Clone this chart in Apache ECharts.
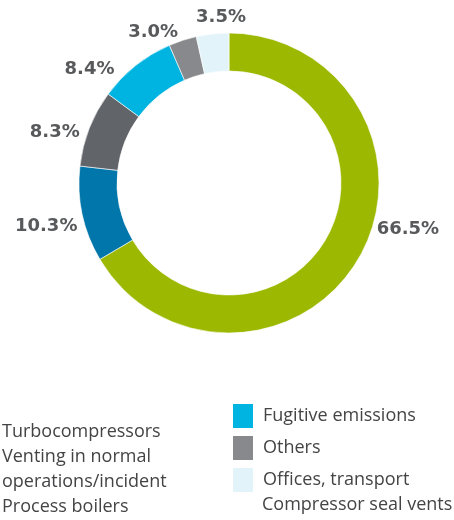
<!DOCTYPE html>
<html>
<head>
<meta charset="utf-8">
<script src="https://cdn.jsdelivr.net/npm/echarts@6/dist/echarts.min.js"></script>
<style>
  html, body { margin: 0; padding: 0; background: #ffffff; }
  #chart { width: 454px; height: 520px; }
</style>
</head>
<body>
<div id="chart"></div>
<script>
// Emission sources and their share of the total (percent)
const categories = [
  'Turbocompressors',
  'Venting in normal\noperations/incident',
  'Process boilers',
  'Fugitive emissions',
  'Others',
  'Offices, transport',
  'Compressor seal vents'
];
const shares = [66.5, 10.3, 8.3, 8.4, 3.0, 3.5, 0];
const colors = ['#9cb800', '#0076ab', '#616469', '#00b4e1', '#88898c', '#e2f4fa', '#ffffff'];

// Legend columns
const legendLeft = categories.slice(0, 3);
const legendRight = categories.slice(3, 6);
const legendLast = categories.slice(6);

// Small nudges for the percentage labels (px)
const labelNudge = [[8, -30], [5, 11], [0, 6], [-13, 8], [2, -3], [39, -12], [0, 0]];

const chart = echarts.init(document.getElementById('chart'), null, { renderer: 'canvas' });

const data = categories.map((name, i) => ({
  name: name,
  value: shares[i],
  itemStyle: { color: colors[i], borderWidth: shares[i] > 0 ? 0.6 : 0 },
  label: { show: shares[i] > 0 }
}));

const legendText = { fontFamily: 'Open Sans', fontSize: 18, color: '#444446' };
const rightLegend = (top, names) => ({
  orient: 'vertical',
  left: 231,
  top: top,
  padding: 0,
  itemWidth: 22,
  itemHeight: 26,
  itemGap: 4,
  icon: 'rect',
  selectedMode: false,
  data: names,
  textStyle: Object.assign({ padding: [0, 0, 0, 4] }, legendText)
});

chart.setOption({
  animation: false,
  legend: [
    {
      orient: 'vertical',
      left: -26,
      top: 419,
      padding: 0,
      itemWidth: 22,
      itemHeight: 14,
      itemGap: 0,
      icon: 'rect',
      selectedMode: false,
      data: legendLeft,
      textStyle: Object.assign({ lineHeight: 25 }, legendText)
    },
    rightLegend(402, legendRight),
    rightLegend(492, legendLast)
  ],
  series: [
    {
      type: 'pie',
      center: [229, 183],
      radius: [112, 150],
      startAngle: 90,
      clockwise: true,
      avoidLabelOverlap: false,
      itemStyle: { borderColor: '#ffffff' },
      label: {
        position: 'outside',
        distanceToLabelLine: 5,
        formatter: p => p.value.toFixed(1) + '%',
        fontFamily: 'DejaVu Sans',
        fontWeight: 'bold',
        fontSize: 18,
        color: '#58595b'
      },
      labelLine: { show: false, length: 5, length2: 0 },
      labelLayout: p => ({ dx: labelNudge[p.dataIndex][0], dy: labelNudge[p.dataIndex][1] }),
      emphasis: { disabled: true },
      data: data
    }
  ]
});
</script>
</body>
</html>
